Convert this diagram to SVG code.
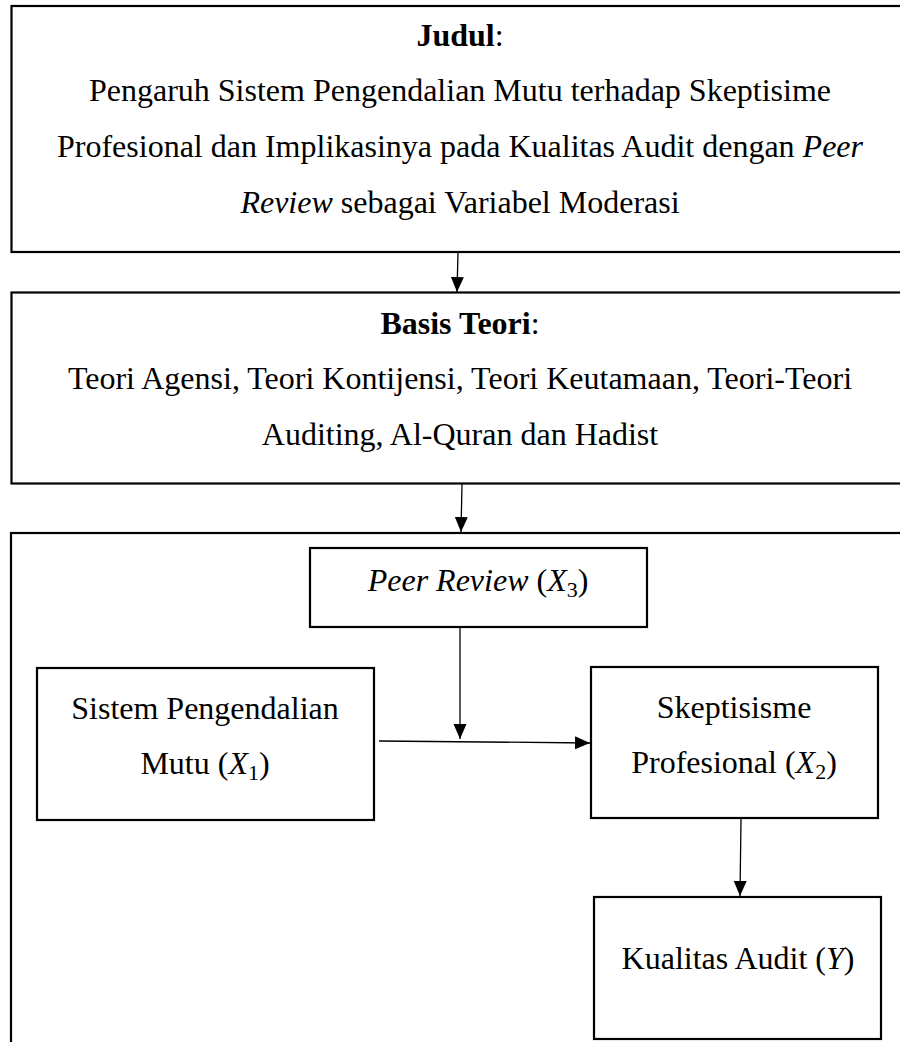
<svg xmlns="http://www.w3.org/2000/svg" width="900" height="1042" viewBox="0 0 900 1042">
<style>
.box{fill:#fff;stroke:#000;stroke-width:2.2}
.t{font-family:"Liberation Serif","Times New Roman",serif;font-size:32px;fill:#000;text-anchor:middle}
.b{font-weight:bold}
.i{font-style:italic}
.sub{font-size:22px}
.conn{stroke:#000;stroke-width:1.3;fill:none;marker-end:url(#ah)}
</style>
<defs>
<marker id="ah" markerUnits="userSpaceOnUse" markerWidth="16" markerHeight="14" refX="15" refY="6.5" orient="auto">
<path d="M0,0 L15,6.5 L0,13 z" fill="#000"/>
</marker>
</defs>
<rect width="900" height="1042" fill="#fff"/>
<g id="judul">
<rect class="box" x="11.5" y="6" width="900" height="246"/>
<text class="t" x="460" y="46"><tspan class="b">Judul</tspan>:</text>
<text class="t" x="460" y="101">Pengaruh Sistem Pengendalian Mutu terhadap Skeptisime</text>
<text class="t" x="460" y="157">Profesional dan Implikasinya pada Kualitas Audit dengan <tspan class="i">Peer</tspan></text>
<text class="t" x="460" y="213"><tspan class="i">Review</tspan> sebagai Variabel Moderasi</text>
</g>
<g id="basis">
<rect class="box" x="11.5" y="292.5" width="900" height="191"/>
<text class="t" x="460" y="334"><tspan class="b">Basis Teori</tspan>:</text>
<text class="t" x="460" y="389">Teori Agensi, Teori Kontijensi, Teori Keutamaan, Teori-Teori</text>
<text class="t" x="460" y="445">Auditing, Al-Quran dan Hadist</text>
</g>
<g id="model">
<rect class="box" x="11" y="533" width="900" height="530"/>
</g>
<g id="peer">
<rect class="box" x="310" y="548" width="337" height="79"/>
<text class="t" x="478" y="591"><tspan class="i">Peer Review</tspan> (<tspan class="i">X</tspan><tspan class="sub" dy="6">3</tspan><tspan dy="-6">)</tspan></text>
</g>
<g id="spm">
<rect class="box" x="37" y="668" width="337" height="152"/>
<text class="t" x="205" y="719">Sistem Pengendalian</text>
<text class="t" x="205" y="774">Mutu (<tspan class="i">X</tspan><tspan class="sub" dy="6">1</tspan><tspan dy="-6">)</tspan></text>
</g>
<g id="skeptis">
<rect class="box" x="591" y="667" width="287" height="151"/>
<text class="t" x="734" y="718">Skeptisisme</text>
<text class="t" x="734" y="773">Profesional (<tspan class="i">X</tspan><tspan class="sub" dy="6">2</tspan><tspan dy="-6">)</tspan></text>
</g>
<g id="kualitas">
<rect class="box" x="594" y="897" width="287" height="142"/>
<text class="t" x="738" y="969">Kualitas Audit (<tspan class="i">Y</tspan>)</text>
</g>
<g id="connectors">
<line class="conn" x1="458" y1="253" x2="457" y2="292"/>
<line class="conn" x1="462" y1="484" x2="461" y2="532"/>
<line class="conn" x1="460" y1="628" x2="460" y2="739"/>
<line class="conn" x1="379" y1="741" x2="590" y2="743"/>
<line class="conn" x1="741" y1="819" x2="740" y2="896"/>
</g>
</svg>
